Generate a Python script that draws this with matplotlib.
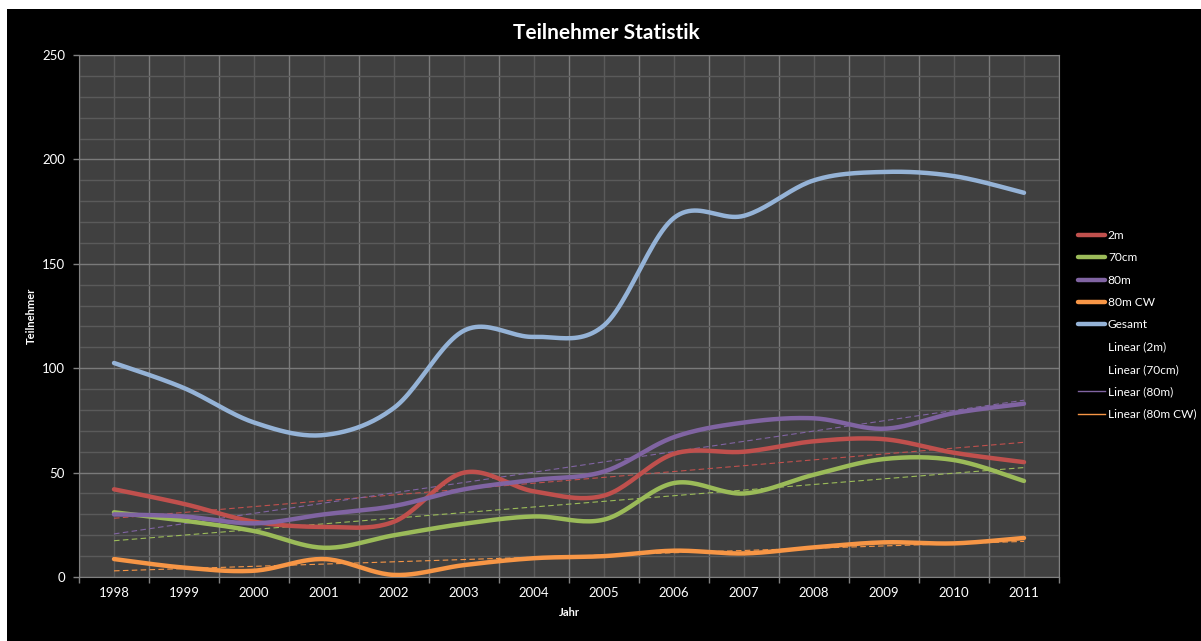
import numpy as np
import matplotlib.pyplot as plt
from matplotlib.lines import Line2D
from matplotlib.patches import Rectangle

# Werte
jahre = ['1998', '1999', '2000', '2001', '2002', '2003', '2004',
         '2005', '2006', '2007', '2008', '2009', '2010', '2011']
m2 = [42, 35, 26.5, 24, 26.5, 50, 41, 39, 59, 60, 65, 66, 59.5, 55]
cm70 = [31, 27, 22, 14, 20, 25.5, 29, 27.5, 45, 40, 49, 56.5, 56, 46]
m80 = [30, 29, 25.7, 30, 34, 42, 46.5, 50.5, 67, 74, 76, 71, 78.5, 83]
m80cw = [8.6, 4.5, 3, 8.6, 1, 5.7, 9, 10, 12.6, 11.3, 14.2, 16.6, 16.1, 18.7]
gesamt = [102.5, 90.5, 74, 68, 81, 118, 115, 120.5, 172, 173, 190, 194, 192, 184]

serien = [('2m', m2, '#C0504D'), ('70cm', cm70, '#9BBB59'), ('80m', m80, '#8064A2'),
          ('80m CW', m80cw, '#F79646'), ('Gesamt', gesamt, '#95B3D7')]


def glatt(x, y, n=24):
    # geglättete Linie wie in Excel (Bezier durch die Punkte)
    pts = np.column_stack([x, y]).astype(float)
    p = np.vstack([pts[0], pts, pts[-1]])
    t = np.linspace(0, 1, n, endpoint=False)[:, None]
    teile = []
    for i in range(1, len(p) - 2):
        p0, p1, p2, p3 = p[i - 1], p[i], p[i + 1], p[i + 2]
        c1 = p1 + (p2 - p0) / 6
        c2 = p2 - (p3 - p1) / 6
        teile.append((1 - t)**3 * p1 + 3 * (1 - t)**2 * t * c1 + 3 * (1 - t) * t**2 * c2 + t**3 * p2)
    teile.append(pts[-1:])
    return np.vstack(teile)


plt.rcParams['font.family'] = ['Lato', 'DejaVu Sans']

fig = plt.figure(figsize=(12.01, 6.41), dpi=100, facecolor='white')
fig.patches.append(Rectangle((7 / 1201, 0), 1, 1 - 9 / 641, transform=fig.transFigure,
                             facecolor='black', edgecolor='none', zorder=-10))

ax = fig.add_axes([79 / 1201, 64 / 641, 980 / 1201, 522 / 641])
ax.set_facecolor('#404040')

x = np.arange(len(jahre))

# Trendlinien
for name, werte, farbe in serien[:4]:
    k = np.polyfit(x, werte, 1)
    ax.plot(x, np.polyval(k, x), color=farbe, linewidth=0.8, dashes=(5, 3), zorder=3)

for name, werte, farbe in serien:
    kurve = glatt(x, werte)
    ax.plot(kurve[:, 0], kurve[:, 1], color=farbe, linewidth=3.2,
            solid_capstyle='round', zorder=4)

ax.set_xlim(-0.5, len(jahre) - 0.5)
ax.set_ylim(0, 250)

ax.set_xticks(np.arange(-0.5, len(jahre), 1))
ax.set_xticklabels([])
ax.set_xticks(x, minor=True)
ax.set_xticklabels(jahre, minor=True)
ax.set_yticks(np.arange(0, 251, 50))
ax.set_yticks(np.arange(0, 251, 10), minor=True)

ax.tick_params(axis='both', which='major', colors='#808080', length=4, width=1,
               labelcolor='white', labelsize=9.5)
ax.tick_params(axis='x', which='minor', length=0, labelcolor='white', labelsize=9.5, pad=7)
ax.tick_params(axis='y', which='minor', length=0)
ax.tick_params(axis='y', which='major', pad=6)

ax.grid(True, which='major', color='#7a7a7a', linewidth=1)
ax.grid(True, which='minor', color='#5a5a5a', linewidth=1)
ax.set_axisbelow(True)
for s in ax.spines.values():
    s.set_color('#808080')

fig.text(606 / 1201, 1 - 33 / 641, 'Teilnehmer Statistik', color='white', fontsize=15,
         fontweight='bold', ha='center', va='center')
ax.set_xlabel('Jahr', color='white', fontsize=8, fontweight='bold', labelpad=6)
ax.set_ylabel('Teilnehmer', color='white', fontsize=8, fontweight='bold')
ax.yaxis.set_label_coords((37 - 79) / 980, 0.5)

handles = [Line2D([], [], color=f, linewidth=3.2, solid_capstyle='round') for _, _, f in serien]
handles += [Line2D([], [], color='none'), Line2D([], [], color='none'),
            Line2D([], [], color='#8064A2', linewidth=1),
            Line2D([], [], color='#F79646', linewidth=1)]
labels = [n for n, _, _ in serien] + ['Linear (2m)', 'Linear (70cm)', 'Linear (80m)', 'Linear (80m CW)']
fig.legend(handles, labels, loc='upper left', bbox_to_anchor=(1078 / 1201, 1 - 230 / 641),
           frameon=False, fontsize=8.6, labelcolor='white', handlelength=2.3,
           handletextpad=0.2, labelspacing=0.95, borderpad=0, borderaxespad=0)

fig.savefig('out.png', dpi=100, facecolor=fig.get_facecolor())
